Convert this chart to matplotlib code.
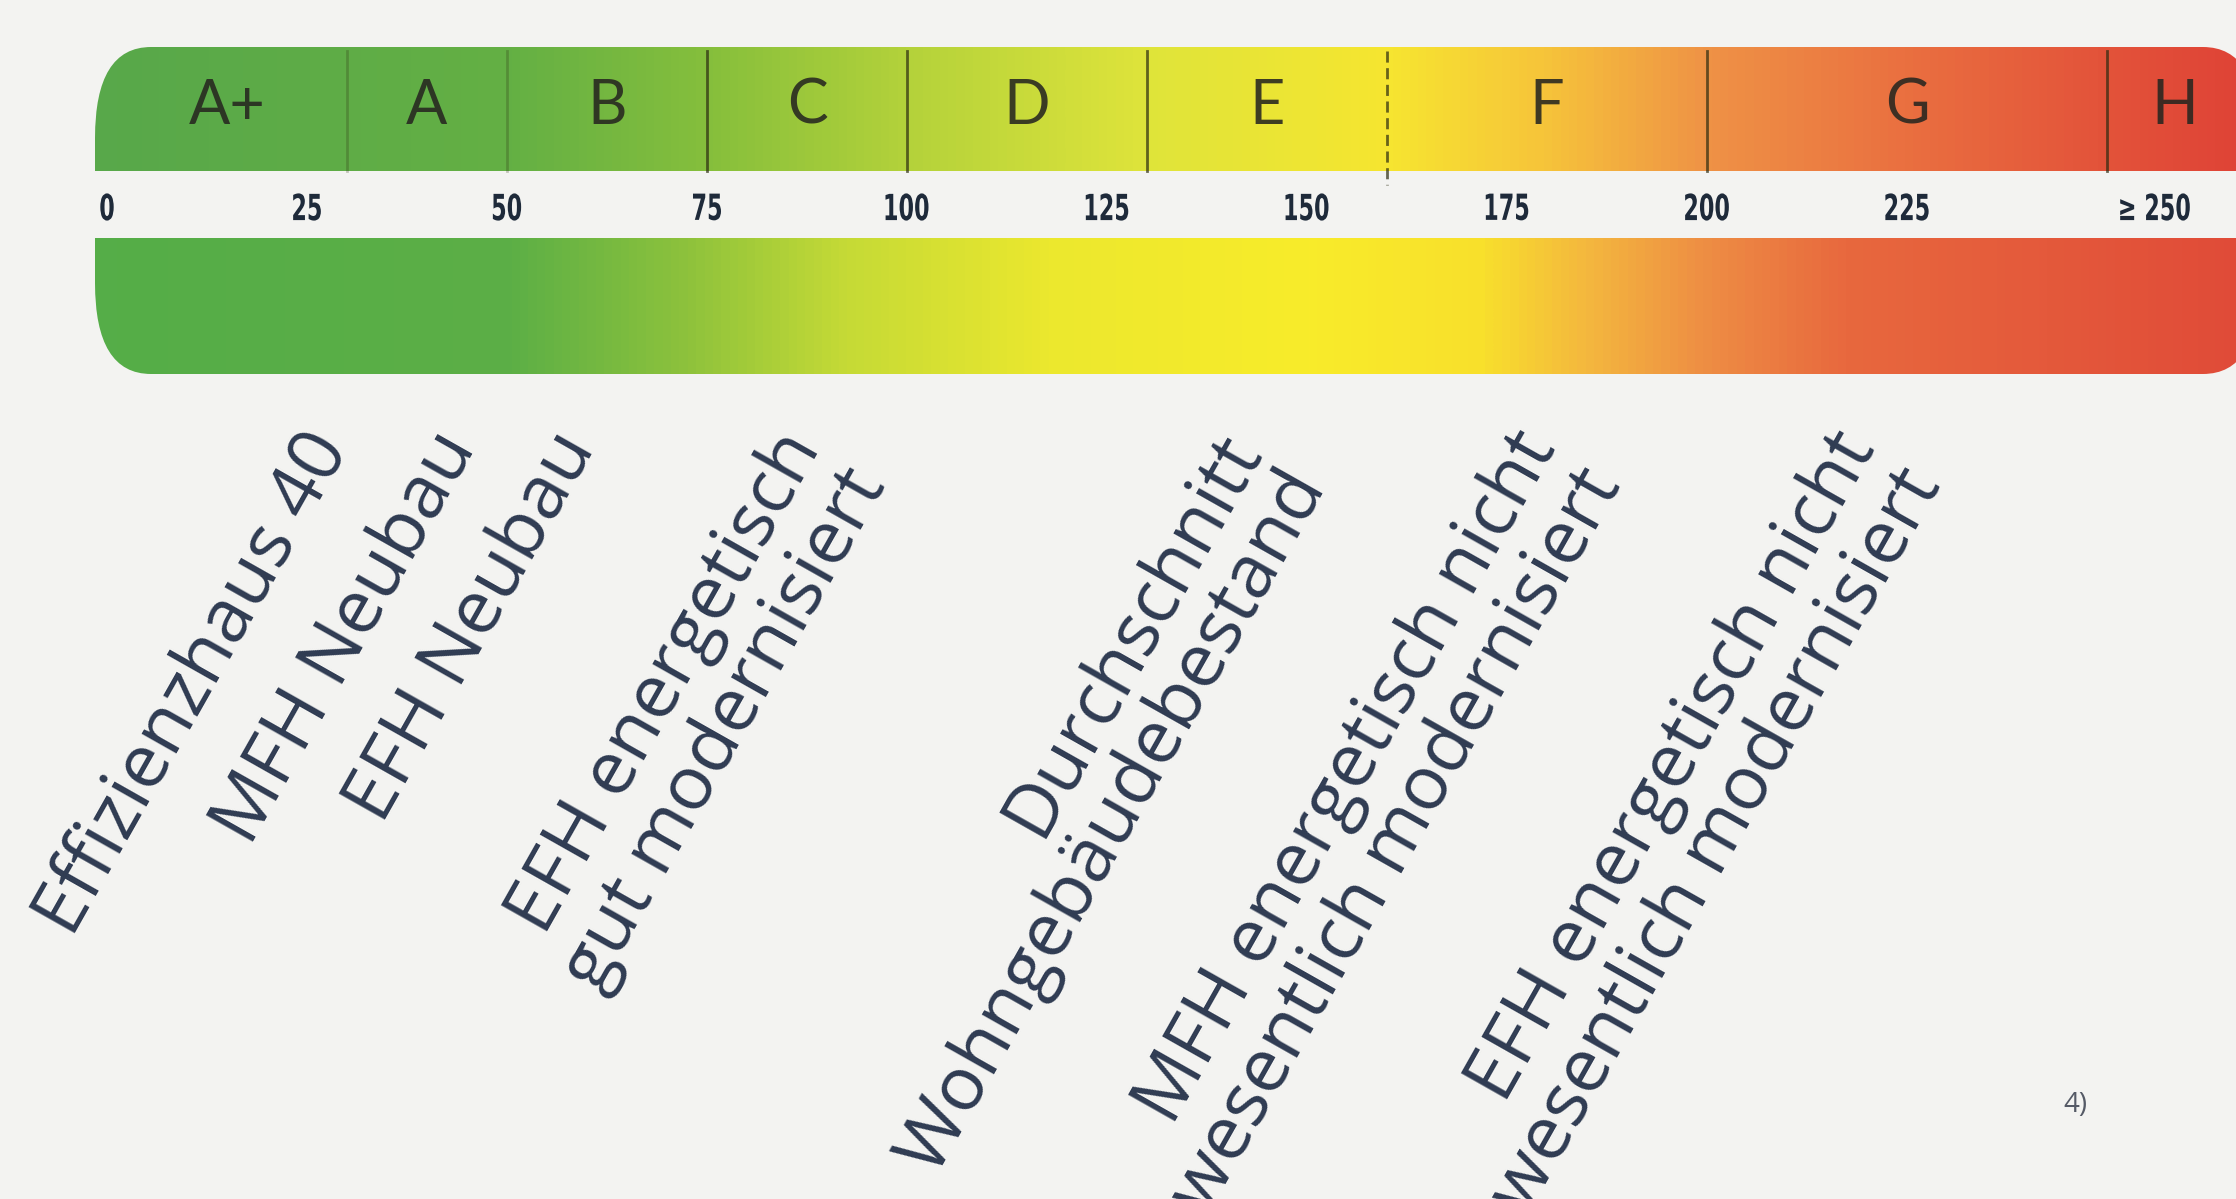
import numpy as np
import matplotlib.pyplot as plt
from matplotlib.colors import LinearSegmentedColormap
from matplotlib.patches import FancyBboxPatch, Rectangle, PathPatch
from matplotlib.textpath import TextPath
from matplotlib.font_manager import FontProperties
from matplotlib.transforms import Affine2D

# energy efficiency classes, kWh/(m²a)
classes = ["A+", "A", "B", "C", "D", "E", "F", "G", "H"]
class_edges = [0, 30, 50, 75, 100, 130, 160, 200, 250, 267]
tick_values = [0, 25, 50, 75, 100, 125, 150, 175, 200, 225, 250]
tick_labels = ["0", "25", "50", "75", "100", "125", "150", "175", "200", "225", "≥ 250"]

# building types and where they sit on the scale
building_labels = [
    "Effizienzhaus 40",
    "MFH Neubau",
    "EFH Neubau",
    "EFH energetisch\ngut modernisiert",
    "Durchschnitt\nWohngebäudebestand",
    "MFH energetisch nicht\nwesentlich modernisiert",
    "EFH energetisch nicht\nwesentlich modernisiert",
]
building_values = [24, 40, 55, 83, 138, 175, 215]

BG = "#f3f3f1"
TXT = "#2f3b52"

# colour stops along the scale (value, colour)
top_stops = [(0, "#58a84a"), (50, "#64b044"), (75, "#86bf3c"), (100, "#b4d23a"),
             (130, "#dfe43a"), (160, "#f6e630"), (180, "#f6c43a"), (200, "#ef9346"),
             (225, "#ea7040"), (250, "#e3533a"), (269, "#df4236")]
bot_stops = [(0, "#55ad48"), (50, "#5caf46"), (72, "#8dc23c"), (92, "#c5da36"),
             (118, "#ece82e"), (150, "#f8ec2a"), (172, "#f8e02c"), (185, "#f4b83e"),
             (200, "#ee8e44"), (218, "#e8683e"), (269, "#e04a38")]


def make_cmap(stops, name):
    lo, hi = stops[0][0], stops[-1][0]
    return LinearSegmentedColormap.from_list(
        name, [((v - lo) / (hi - lo), c) for v, c in stops])


fig = plt.figure(figsize=(22.36, 11.99), dpi=100)
fig.patch.set_facecolor(BG)
ax = fig.add_axes([0, 0, 1, 1])
ax.set_facecolor(BG)
# x in kWh/(m²a), y in pixels from the top
ax.set_xlim(-13.375, 266.125)
ax.set_ylim(1199, 0)
ax.axis("off")

bar_left, bar_right = -1.5, 269
top_y0, top_y1 = 47, 171
bot_y0, bot_y1 = 238, 374

outline = FancyBboxPatch((bar_left, top_y0), bar_right - bar_left, bot_y1 - top_y0,
                         boxstyle="round,pad=0,rounding_size=7",
                         mutation_aspect=13, facecolor="none", edgecolor="none")
ax.add_patch(outline)

grad = np.linspace(0, 1, 600)[None, :]
for stops, y0, y1, nm in [(top_stops, top_y0, top_y1, "top"),
                          (bot_stops, bot_y0, bot_y1, "bot")]:
    im = ax.imshow(grad, cmap=make_cmap(stops, nm), aspect="auto",
                   extent=(stops[0][0], stops[-1][0], y1, y0), interpolation="bilinear")
    im.set_clip_path(outline)
    cap = ax.add_patch(Rectangle((bar_left, y0), 0 - bar_left, y1 - y0,
                                 facecolor=stops[0][1], edgecolor="none"))
    cap.set_clip_path(outline)

# class dividers
for e in class_edges[1:-1]:
    ls = (0, (4, 2)) if e == 160 else "-"
    alpha = 0.25 if e in (30, 50) else 0.7
    ybot = 185 if e == 160 else top_y1
    ax.plot([e, e], [top_y0 + 4, ybot], color="#2b2b10", lw=2, alpha=alpha, ls=ls)

# class letters
for k, name in enumerate(classes):
    xc = (class_edges[k] + class_edges[k + 1]) / 2
    ax.text(xc, 106, name, ha="center", va="center", fontsize=44,
            family="Lato", color="#262620", alpha=0.88)

# scale numbers, drawn as condensed text paths
fp = FontProperties(family="DejaVu Sans", weight="bold")
for v, lab in zip(tick_values, tick_labels):
    off = 6 if lab.startswith("≥") else 0
    tp = TextPath((0, 0), lab, size=36, prop=fp)
    bb = tp.get_extents()
    cx, cy = ax.transData.transform((v + off, 207))
    tr = (Affine2D().translate(-(bb.x0 + bb.x1) / 2, -(bb.y0 + bb.y1) / 2)
          .scale(0.62, 1.0).translate(cx, cy))
    ax.add_patch(PathPatch(tp, transform=tr, facecolor="#1e2a3a", edgecolor="none"))

# building labels
for v, lab in zip(building_values, building_labels):
    ax.text(v, 420, lab, rotation=60.5, rotation_mode="anchor", ha="right", va="top",
            multialignment="right", fontsize=54, family="Open Sans", color=TXT,
            linespacing=1.0)

ax.text(246, 1105, "4)", ha="center", va="center", fontsize=20,
        family="Open Sans", color="#555a66")

fig.savefig("out.png", dpi=100, facecolor=BG)
